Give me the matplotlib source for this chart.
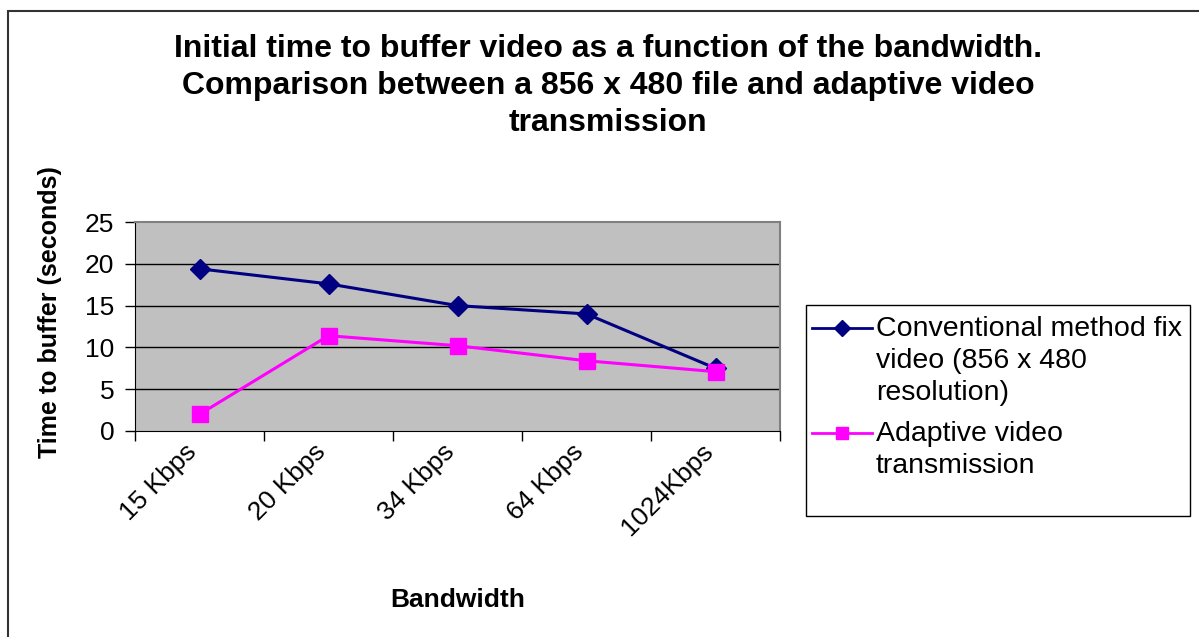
import matplotlib.pyplot as plt
from matplotlib.patches import Rectangle
from matplotlib.lines import Line2D

plt.rcParams['font.family'] = ['Liberation Sans', 'DejaVu Sans']

# Bandwidth categories and buffering times (seconds)
bandwidths = ['15 Kbps', '20 Kbps', '34 Kbps', '64 Kbps', '1024Kbps']
conventional = [19.4, 17.6, 15.0, 14.0, 7.5]
adaptive = [2.0, 11.4, 10.2, 8.4, 7.1]
y_ticks = [0, 5, 10, 15, 20, 25]
series_names = ['Conventional method fix\nvideo (856 x 480\nresolution)',
                'Adaptive video\ntransmission']

W, H = 1199, 637
fig = plt.figure(figsize=(W / 100, H / 100), dpi=100)
ax = fig.add_axes([135 / W, 1 - 431 / H, 645 / W, 209 / H])

# outer chart frame
fig.patches.append(Rectangle((8 / W, -0.1), 1.2, 1 - 11 / H + 0.1,
                             transform=fig.transFigure, fill=False,
                             edgecolor='#333333', linewidth=1.5))

x = list(range(len(bandwidths)))
ax.set_facecolor('#C0C0C0')
for y in y_ticks[1:-1]:
    ax.axhline(y, color='black', linewidth=1, zorder=1)

l1, = ax.plot(x, conventional, color='#000080', marker='D', markersize=10,
              linewidth=2.2, zorder=3)
l2, = ax.plot(x, adaptive, color='#FF00FF', marker='s', markersize=11,
              linewidth=2.2, zorder=3)

ax.set_xlim(-0.5, len(bandwidths) - 0.5)
ax.set_ylim(0, 25)
ax.set_yticks(y_ticks)
ax.set_yticklabels([str(v) for v in y_ticks], fontsize=19)
ax.set_xticks([i - 0.5 for i in range(len(bandwidths) + 1)])
ax.set_xticklabels([])
for i, lab in enumerate(bandwidths):
    ax.text(i - 0.05, -2.0, lab, rotation=45, ha='right', va='center',
            rotation_mode='anchor', fontsize=19)

ax.tick_params(axis='both', direction='out', length=7, width=1, color='black')
ax.tick_params(axis='y', pad=8)
for side in ['top', 'right']:
    ax.spines[side].set_color('#808080')
    ax.spines[side].set_linewidth(1.5)
ax.spines['left'].set_color('black')
ax.spines['bottom'].set_color('black')

fig.text(458 / W, 1 - 600 / H, 'Bandwidth', ha='center', va='center',
         fontsize=19, fontweight='bold')
fig.text(50 / W, 1 - 312 / H, 'Time to buffer (seconds)', ha='center',
         va='center', rotation=90, fontsize=18, fontweight='bold')
fig.text(608 / W, 1 - 86 / H,
         'Initial time to buffer video as a function of the bandwidth.\n'
         'Comparison between a 856 x 480 file and adaptive video\n'
         'transmission',
         ha='center', va='center', fontsize=23, fontweight='bold',
         linespacing=1.3)

# legend box drawn by hand so each handle sits on its entry's first line
fig.patches.append(Rectangle((806 / W, 1 - 516 / H), 384 / W, 211 / H,
                             transform=fig.transFigure, facecolor='white',
                             edgecolor='black', linewidth=1))
for line, name, y0 in [(l1, series_names[0], 328), (l2, series_names[1], 433)]:
    fig.add_artist(Line2D([812 / W, 872 / W], [1 - y0 / H, 1 - y0 / H],
                          transform=fig.transFigure, color=line.get_color(),
                          linewidth=2))
    fig.add_artist(Line2D([842 / W], [1 - y0 / H], transform=fig.transFigure,
                          color=line.get_color(), marker=line.get_marker(),
                          markersize=line.get_markersize() * 0.85, linestyle='none'))
    fig.text(876 / W, 1 - (y0 - 12) / H, name, ha='left', va='top',
             fontsize=20.5, linespacing=1.3)

fig.savefig('out.png', dpi=100)
